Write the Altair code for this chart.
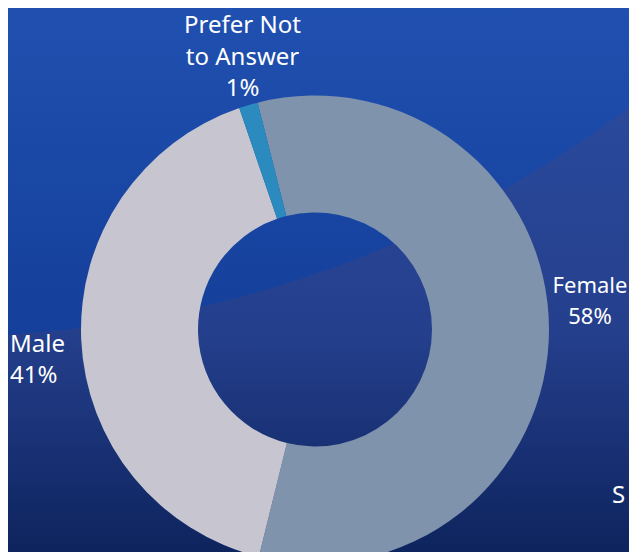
import math
import altair as alt
import pandas as pd

# ---- data ----
categories = ["Female", "Male", "Prefer Not to Answer"]
values = [57.8, 40.9, 1.3]
label_names = ["Female", "Male", "Prefer Not\nto Answer"]
pct_labels = ["58%", "41%", "1%"]
slice_colors = ["#7f93ad", "#c7c6d0", "#2b8bbf"]

df = pd.DataFrame({
    "category": categories,
    "value": values,
    "order": list(range(len(categories))),
    "label": [f"{n}\n{p}" for n, p in zip(label_names, pct_labels)],
})

W, H = 621, 544
CX, CY = 307, 321.5
R_OUT, R_IN = 234, 117
start = math.radians(-14.2)

# ---- background ----
bg_data = alt.Data(values=[{"k": 1}])
bg = alt.Chart(bg_data).mark_rect(
    fill=alt.LinearGradient(
        gradient="linear", x1=0, y1=0, x2=0, y2=1,
        stops=[
            alt.GradientStop(offset=0, color="#2d4ea2"),
            alt.GradientStop(offset=0.6, color="#243f8c"),
            alt.GradientStop(offset=1, color="#0e245e"),
        ],
    )
).encode(x=alt.value(0), x2=alt.value(W), y=alt.value(0), y2=alt.value(H))

BR = 1138
BX, BY = -63, -810
top_off = (-(BY - BR)) / (2 * BR)
band = alt.Chart(bg_data).mark_arc(
    radius=BR, theta=0, theta2=2 * math.pi,
    fill=alt.LinearGradient(
        gradient="linear", x1=0, y1=0, x2=0, y2=1,
        stops=[
            alt.GradientStop(offset=0, color="#2252b4"),
            alt.GradientStop(offset=top_off, color="#2050b0"),
            alt.GradientStop(offset=1, color="#143f9a"),
        ],
    ),
).encode(x=alt.value(BX), y=alt.value(BY))

# ---- donut ----
donut = alt.Chart(df).mark_arc(innerRadius=R_IN, outerRadius=R_OUT).encode(
    theta=alt.Theta("value:Q", stack=True,
                    scale=alt.Scale(range=[start, start + 2 * math.pi])),
    order=alt.Order("order:Q", sort="ascending"),
    color=alt.Color("category:N", legend=None,
                    scale=alt.Scale(domain=categories, range=slice_colors)),
    x=alt.value(CX), y=alt.value(CY),
)

def label_layer(cat, x, y, align, size=24, lh=31.5):
    return alt.Chart(df).transform_filter(
        alt.datum.category == cat
    ).mark_text(
        font="Noto Sans", fontSize=size, color="#ffffff", align=align,
        baseline="alphabetic", lineBreak="\n", lineHeight=lh,
    ).encode(text="label:N", x=alt.value(x), y=alt.value(y))

lab_f = label_layer("Female", 582, 284.7, "center", size=22)
lab_m = label_layer("Male", 2, 343.7, "left")
lab_p = label_layer("Prefer Not to Answer", 234.5, 25, "center")

stray = alt.Chart(bg_data).mark_text(
    font="Noto Sans", fontSize=24, color="#ffffff", align="left", baseline="alphabetic"
).encode(text=alt.value("S"), x=alt.value(604), y=alt.value(495))

chart = alt.layer(bg, band, donut, lab_f, lab_m, lab_p, stray).properties(
    width=W, height=H,
    autosize=alt.AutoSizeParams(type="none"),
    padding=0,
).configure_view(stroke=None).configure(background="#1a3a8a")

chart.save("out.html", embed_options={"renderer": "svg", "actions": False})
